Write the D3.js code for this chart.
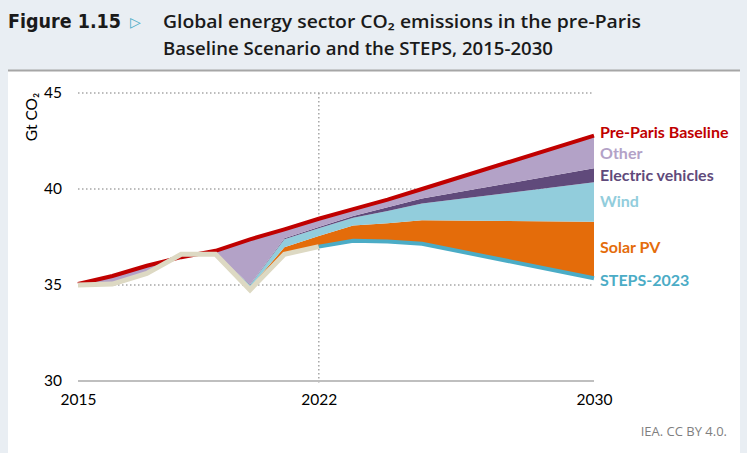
<!DOCTYPE html>
<html><head><meta charset="utf-8">
<script src="https://cdn.jsdelivr.net/npm/d3@7"></script>
<style>
html,body{margin:0;padding:0;background:#e9eef3;}
svg{display:block;}
</style></head>
<body>
<svg id="chart" width="747" height="453"></svg>
<script>
// ---- data ----
const years = [2015,2016,2017,2018,2019,2020,2021,2022,2023,2024,2025,2030];
const baseline = [35.05,35.47,36.0,36.45,36.78,37.38,37.9,38.45,38.95,39.45,40.0,42.78];
const steps = [35.0,35.05,35.6,36.6,36.6,34.75,36.6,37.0,37.3,37.27,37.15,35.35];
const solar = [0,0,0,0,0.02,0.12,0.36,0.55,0.8,0.95,1.22,2.95];
const wind  = [0,0,0,0,0.03,0.13,0.42,0.4,0.4,0.63,0.87,2.05];
const ev    = [0,0,0,0,0,0.02,0.05,0.07,0.1,0.2,0.26,0.73];
const other = [0.05,0.42,0.4,0,0.13,2.36,0.47,0.43,0.35,0.4,0.5,1.7];
const historyEnd = 2022;
const yTicks = [30,35,40,45];
const xTicks = [2015,2022,2030];
const seriesKeys = ["solar","wind","ev","other"];
const seriesColors = {solar:"#e46c0a", wind:"#92cddc", ev:"#604a7b", other:"#b3a2c7"};
const labels = [
  {text:"Pre-Paris Baseline", value:42.97, color:"#c00000"},
  {text:"Other", value:41.88, color:"#b3a2c7"},
  {text:"Electric vehicles", value:40.73, color:"#604a7b"},
  {text:"Wind", value:39.38, color:"#92cddc"},
  {text:"Solar PV", value:36.98, color:"#e46c0a"},
  {text:"STEPS-2023", value:35.26, color:"#4bacc6"}
];

const svg = d3.select("#chart");
// background panels
svg.append("rect").attr("x",8).attr("y",71).attr("width",732).attr("height",382).attr("fill","#ffffff");
svg.append("line").attr("x1",8).attr("x2",740).attr("y1",70.5).attr("y2",70.5).attr("stroke","#a6a6a6").attr("stroke-width",2);

// title
svg.append("text").attr("x",8).attr("y",28)
  .attr("font-family","'DejaVu Sans Condensed','DejaVu Sans'").attr("font-weight","bold").attr("font-size",19.5)
  .attr("fill","#1a1a1a").attr("textLength",113).attr("lengthAdjust","spacingAndGlyphs").text("Figure 1.15");
svg.append("text").attr("x",130).attr("y",27)
  .attr("font-family","'DejaVu Sans'").attr("font-size",14).attr("fill","#4bacc6").text("\u25B7");
const tstyle = s => s.attr("font-family","'Open Sans'").attr("font-weight",600).attr("font-size",17.5).attr("fill","#1a1a1a").attr("lengthAdjust","spacingAndGlyphs");
tstyle(svg.append("text").attr("x",163).attr("y",28).attr("textLength",478).text("Global energy sector CO\u2082 emissions in the pre-Paris"));
tstyle(svg.append("text").attr("x",163).attr("y",55).attr("textLength",390).text("Baseline Scenario and the STEPS, 2015-2030"));

// scales
const x = d3.scaleLinear().domain([2015,2030]).range([78,594]);
const y = d3.scaleLinear().domain([30,45]).range([381,93]);

// gridlines
const g = svg.append("g");
yTicks.filter(v=>v>30).forEach(v=>{
  g.append("line").attr("x1",x(2015)).attr("x2",x(2030)).attr("y1",y(v)).attr("y2",y(v))
   .attr("stroke","#a6a6a6").attr("stroke-width",1.5).attr("stroke-dasharray","1.5,2.5");
});
g.append("line").attr("x1",x(2022)).attr("x2",x(2022)).attr("y1",y(45)).attr("y2",y(30)+3)
  .attr("stroke","#a6a6a6").attr("stroke-width",1.5).attr("stroke-dasharray","1.5,2.5");
g.append("line").attr("x1",x(2015)).attr("x2",x(2030)).attr("y1",y(30)).attr("y2",y(30))
  .attr("stroke","#bfbfbf").attr("stroke-width",2);

// stacked wedges
const rows = years.map((yr,i)=>({year:yr, base:steps[i], solar:solar[i], wind:wind[i], ev:ev[i], other:other[i]}));
const stacked = d3.stack().keys(seriesKeys)(rows);
const area = d3.area().x(d=>x(d.data.year)).y0(d=>y(d.data.base+d[0])).y1(d=>y(d.data.base+d[1]));
svg.append("g").selectAll("path").data(stacked).join("path")
  .attr("d",area).attr("fill",d=>seriesColors[d.key]);

// lines
const line = d3.line().x(d=>x(d[0])).y(d=>y(d[1]));
svg.append("path").attr("d",line(years.map((yr,i)=>[yr,baseline[i]])))
  .attr("fill","none").attr("stroke","#c00000").attr("stroke-width",4);
svg.append("path").attr("d",line(years.map((yr,i)=>[yr,steps[i]]).filter(d=>d[0]<=historyEnd)))
  .attr("fill","none").attr("stroke","#ddd9c3").attr("stroke-width",5);
svg.append("path").attr("d",line(years.map((yr,i)=>[yr,steps[i]]).filter(d=>d[0]>=historyEnd)))
  .attr("fill","none").attr("stroke","#4bacc6").attr("stroke-width",4);

// axes
const yAxis = svg.append("g").attr("transform",`translate(${x(2015)-16},0)`)
  .call(d3.axisLeft(y).tickValues(yTicks).tickSize(0).tickPadding(0));
yAxis.select(".domain").remove();
yAxis.selectAll("text").attr("font-family","Lato").attr("font-size",15.5).attr("fill","#000");
const xAxis = svg.append("g").attr("transform",`translate(0,${y(30)+13})`)
  .call(d3.axisBottom(x).tickValues(xTicks).tickFormat(d3.format("d")).tickSize(0).tickPadding(0));
xAxis.select(".domain").remove();
xAxis.selectAll("text").attr("font-family","Lato").attr("font-size",15.5).attr("fill","#000");

// y title
svg.append("text").attr("transform",`translate(37,117) rotate(-90)`).attr("text-anchor","middle")
  .attr("font-family","Lato").attr("font-size",15.5).attr("fill","#000").text("Gt CO\u2082");

// series labels
svg.append("g").selectAll("text").data(labels).join("text")
  .attr("x",600).attr("y",d=>y(d.value)).attr("dy","0.35em")
  .attr("font-family","Lato").attr("font-weight","bold").attr("font-size",16)
  .attr("fill",d=>d.color).text(d=>d.text);

// source
svg.append("text").attr("x",727).attr("y",436).attr("text-anchor","end")
  .attr("font-family","'Open Sans'").attr("font-size",13).attr("fill","#7f7f7f").text("IEA. CC BY 4.0.");
</script>
</body></html>
